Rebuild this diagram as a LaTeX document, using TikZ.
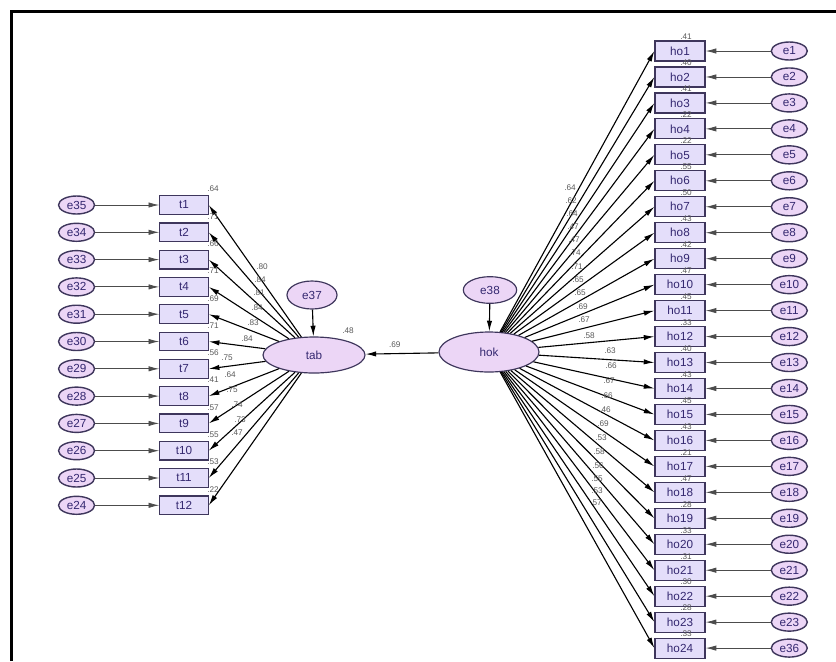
\documentclass[tikz,border=0pt]{standalone}
\usepackage{fontspec}
\setsansfont{Liberation Sans}
\usetikzlibrary{shapes.geometric, arrows.meta, positioning}

\definecolor{boxfill}{RGB}{228,222,250}
\definecolor{ellfill}{RGB}{236,214,246}
\definecolor{edgecol}{RGB}{62,54,92}
\definecolor{lblcol}{RGB}{52,40,112}

\begin{document}
\begin{tikzpicture}[x=0.03cm, y=-0.03cm,
  font=\sffamily\fontsize{10}{11}\selectfont,
  obs/.style={rectangle, draw=edgecol, fill=boxfill, line width=1pt, minimum width=1.45cm, minimum height=0.56cm, inner sep=0pt, text=lblcol},
  err/.style={ellipse, draw=edgecol, fill=ellfill, line width=1.2pt, minimum width=1.08cm, minimum height=0.54cm, inner sep=0pt, text=lblcol},
  lat/.style={ellipse, draw=edgecol, fill=ellfill, line width=1pt, inner sep=0pt, text=lblcol},
  load/.style={-{Latex[length=3.2mm,width=1.6mm]}, line width=0.95pt},
  res/.style={-{Latex[length=3.2mm,width=1.6mm]}, draw=black!70, line width=0.7pt},
  est/.style={font=\sffamily\fontsize{7}{8}\selectfont, text=black!65, inner sep=0pt}]

  \useasboundingbox (0,0) rectangle (836,661);
  \draw[line width=2.4pt] (11.5,661) -- (11.5,11.5) -- (836,11.5);

  % latent variables
  \node[lat, minimum width=3.06cm, minimum height=1.08cm] (tab) at (314,355) {tab};
  \node[lat, minimum width=3cm, minimum height=1.2cm] (hok) at (489,352) {hok};
  \node[lat, minimum width=1.5cm, minimum height=0.84cm] (e37) at (312,295) {e37};
  \node[lat, minimum width=1.6cm, minimum height=0.8cm] (e38) at (490,290) {e38};
  \draw[load] (e37) -- (tab);
  \draw[load] (e38) -- (hok);
  \draw[load] (hok) -- (tab) node[est, pos=.6, above=5pt] {.69};
  \node[est] (r2tab) at (348,331) {.48};

  % tab indicators
  \foreach \i/\rr/\v/\lx/\ly in {1/.64/.80/262/267, 2/.71/.84/260/280, 3/.66/.81/259/293,
      4/.71/.84/257/308, 5/.69/.83/253/323, 6/.71/.84/247/339, 7/.56/.75/227/358,
      8/.41/.64/230/375, 9/.57/.75/232/390, 10/.55/.74/237/405, 11/.53/.73/240/420,
      12/.22/.47/237/433}{
    \pgfmathsetmacro\yy{205+27.3*(\i-1)}
    \pgfmathtruncatemacro\en{36-\i}
    \node[est] (rt\i) at (213,\yy-16) {\rr};
    \node[obs] (t\i) at (184,\yy) {t\i};
    \node[err, left=1.92cm of t\i] (e\en) {e\en};
    \draw[res] (e\en) -- (t\i);
    \draw[load] (tab) -- (t\i.east);
    \node[est] (lt\i) at (\lx,\ly) {\v};
  }

  % hok indicators
  \foreach \i/\rr/\v/\lx/\ly in {1/.41/.64/570/188, 2/.40/.62/571/201, 3/.41/.64/572/214,
      4/.22/.47/573/227, 5/.22/.47/574/240, 6/.55/.74/575/253, 7/.50/.71/577/267,
      8/.43/.65/578/280, 9/.42/.65/580/293, 10/.47/.69/582/307, 11/.45/.67/584/320,
      12/.33/.58/589/336, 13/.40/.63/610/351, 14/.43/.66/611/366, 15/.45/.67/609/381,
      16/.43/.66/607/396, 17/.21/.46/605/410, 18/.47/.69/603/424, 19/.28/.53/601/438,
      20/.33/.58/599/452, 21/.31/.56/598/466, 22/.30/.55/597/479, 23/.28/.53/597/491,
      24/.33/.57/596/503}{
    \pgfmathsetmacro\yy{51+25.96*(\i-1)}
    \pgfmathtruncatemacro\en{ifthenelse(\i<24,\i,36)}
    \node[est] (rh\i) at (686,\yy-14) {\rr};
    \node[obs, minimum width=1.5cm, minimum height=0.6cm] (ho\i) at (680,\yy) {ho\i};
    \node[err, right=1.95cm of ho\i] (e\en) {e\en};
    \draw[res] (e\en) -- (ho\i);
    \draw[load] (hok) -- (ho\i.west);
    \node[est] (lh\i) at (\lx,\ly) {\v};
  }
\end{tikzpicture}
\end{document}
